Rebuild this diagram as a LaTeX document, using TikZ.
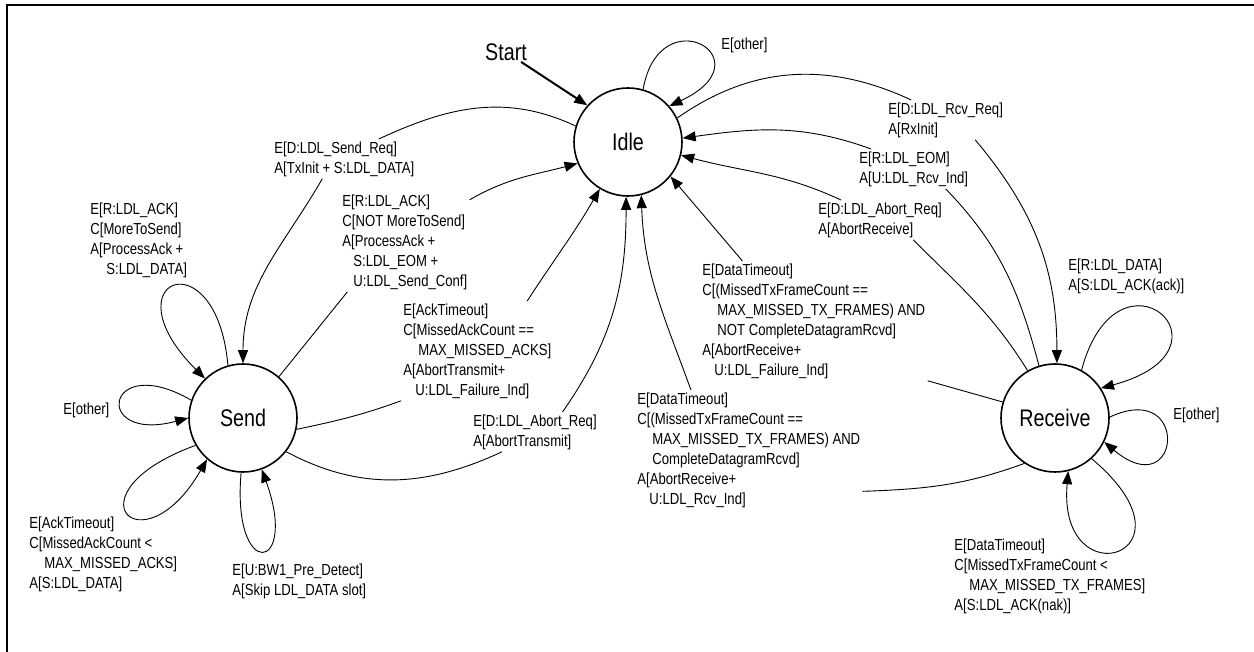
\documentclass[tikz,border=0pt]{standalone}
\usepackage{fontspec}
\setmainfont[FakeStretch=0.82]{Liberation Sans}
\usetikzlibrary{arrows.meta}

\begin{document}
\begin{tikzpicture}[x=1pt,y=1pt,>={Triangle[length=13pt,width=10pt]},line width=0.9pt,
  state/.style={draw,circle,line width=1.6pt,minimum size=108pt,inner sep=0pt,font=\fontsize{24}{28}\selectfont},
  trans/.style={align=left,anchor=north west,inner sep=2pt,font=\fontsize{16}{20}\selectfont}]
  \useasboundingbox (0,0) rectangle (1254,652);
  \draw[line width=2pt] (7,0) -- (7,647) -- (1254,647);

  \node[state] (idle) at (628,510) {Idle};
  \node[state] (send) at (243,234) {Send};
  \node[state] (receive) at (1055,234) {Receive};
  \node[font=\fontsize{24}{28}\selectfont,inner sep=1pt] (start) at (506,600) {Start};
  \draw[->,line width=2pt] (start) -- (idle.138);

  % labels
  \node[trans] (lIdleOther) at (719,617) {E[other]};
  \node[trans] (lSendReq) at (272,513) {E[D:LDL\_Send\_Req]\\A[TxInit + S:LDL\_DATA]};
  \node[trans] (lMoreSend) at (88,452) {E[R:LDL\_ACK]\\C[MoreToSend]\\A[ProcessAck +\\\hspace*{16pt}S:LDL\_DATA]};
  \node[trans] (lNotMore) at (340,460) {E[R:LDL\_ACK]\\C[NOT MoreToSend]\\A[ProcessAck +\\\hspace*{11pt}S:LDL\_EOM +\\\hspace*{11pt}U:LDL\_Send\_Conf]};
  \node[trans] (lAckMax) at (401,351) {E[AckTimeout]\\C[MissedAckCount ==\\\hspace*{15pt}MAX\_MISSED\_ACKS]\\A[AbortTransmit+\\\hspace*{12pt}U:LDL\_Failure\_Ind]};
  \node[trans] (lAbortTx) at (471,240) {E[D:LDL\_Abort\_Req]\\A[AbortTransmit]};
  \node[trans] (lDtFail) at (700,391) {E[DataTimeout]\\C[(MissedTxFrameCount ==\\\hspace*{15pt}MAX\_MISSED\_TX\_FRAMES) AND\\\hspace*{15pt}NOT CompleteDatagramRcvd]\\A[AbortReceive+\\\hspace*{12pt}U:LDL\_Failure\_Ind]};
  \node[trans] (lDtOk) at (635,262) {E[DataTimeout]\\C[(MissedTxFrameCount ==\\\hspace*{15pt}MAX\_MISSED\_TX\_FRAMES) AND\\\hspace*{15pt}CompleteDatagramRcvd]\\A[AbortReceive+\\\hspace*{12pt}U:LDL\_Rcv\_Ind]};
  \node[trans] (lRcvReq) at (886,552) {E[D:LDL\_Rcv\_Req]\\A[RxInit]};
  \node[trans] (lEom) at (857,503) {E[R:LDL\_EOM]\\A[U:LDL\_Rcv\_Ind]};
  \node[trans] (lAbortRx) at (816,452) {E[D:LDL\_Abort\_Req]\\A[AbortReceive]};
  \node[trans] (lRxData) at (1066,396) {E[R:LDL\_DATA]\\A[S:LDL\_ACK(ack)]};
  \node[trans] (lRxOther) at (1171,247) {E[other]};
  \node[trans] (lRxNak) at (952,116) {E[DataTimeout]\\C[MissedTxFrameCount <\\\hspace*{15pt}MAX\_MISSED\_TX\_FRAMES]\\A[S:LDL\_ACK(nak)]};
  \node[trans] (lTxOther) at (61,252) {E[other]};
  \node[trans] (lAckLess) at (27,138) {E[AckTimeout]\\C[MissedAckCount <\\\hspace*{15pt}MAX\_MISSED\_ACKS]\\A[S:LDL\_DATA]};
  \node[trans] (lBw1) at (230,91) {E[U:BW1\_Pre\_Detect]\\A[Skip LDL\_DATA slot]};

  % idle
  \draw[->] (idle.74) .. controls +(80:95) and +(25:110) .. (idle.41);
  \draw (idle.163) to[out=155,in=25] (lSendReq.30);
  \draw[->] (lSendReq.222) to[out=240,in=90] (send.90);
  \draw (idle.26) to[out=35,in=155] (lRcvReq.150);
  \draw[->] (lRcvReq.326) to[out=-50,in=90] (receive.88);

  % send
  \draw[->] (send.106) .. controls +(95:130) and +(135:140) .. (send.134);
  \draw[->] (send.161) .. controls +(150:100) and +(195:100) .. (send.180);
  \draw[->] (send.210) .. controls +(200:140) and +(240:130) .. (send.229);
  \draw[->] (send.268) .. controls +(-95:110) and +(-70:110) .. (send.290);
  \draw (send.49) -- (lNotMore.221);
  \draw[->] (lNotMore.33) to[out=30,in=195] (idle.203);
  \draw (send.348) to[out=12,in=200] (lAckMax.south west);
  \draw[->] (lAckMax.45) to[out=57,in=240] (idle.239);
  \draw (send.322) to[out=-28,in=205] (lAbortTx.211);
  \draw[->] (lAbortTx.36) to[out=55,in=270] (idle.268);

  % receive
  \draw[->] (receive.61) .. controls +(75:140) and +(15:150) .. (receive.33);
  \draw[->] (receive.1) .. controls +(25:90) and +(-40:100) .. (receive.334);
  \draw[->] (receive.312) .. controls +(-40:150) and +(-95:130) .. (receive.284);
  \draw (receive.107) to[out=105,in=-46] (lEom.328);
  \draw[->] (lEom.155) to[out=160,in=8] (idle.4);
  \draw (receive.120) to[out=122,in=-45] (lAbortRx.329);
  \draw[->] (lAbortRx.153) to[out=155,in=-15] (idle.346);
  \draw (receive.163) -- (lDtFail.south east);
  \draw[->] (lDtFail.140) -- (idle.321);
  \draw (receive.236) to[out=200,in=2] (lDtOk.340);
  \draw[->] (lDtOk.134) to[out=110,in=272] (idle.284);
\end{tikzpicture}
\end{document}
